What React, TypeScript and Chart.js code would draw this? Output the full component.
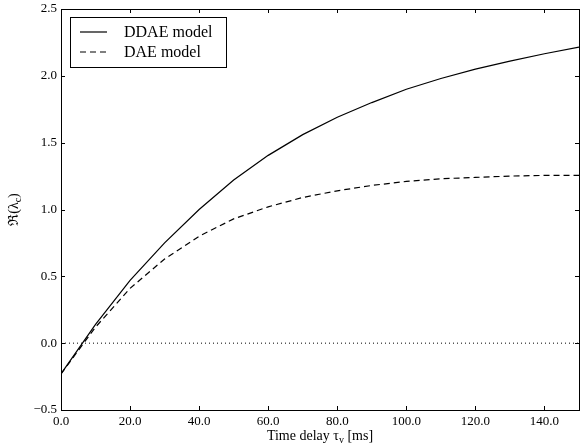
import React, { useEffect, useRef } from "react";
import { Chart, registerables } from "chart.js";

Chart.register(...registerables);

const delays = [0, 10, 20, 30, 40, 50, 60, 70, 80, 90, 100, 110, 120, 130, 140, 150];
const ddae = [-0.23, 0.14, 0.47, 0.75, 1.0, 1.22, 1.405, 1.56, 1.69, 1.80, 1.90, 1.98, 2.05, 2.11, 2.165, 2.215];
const dae = [-0.23, 0.12, 0.41, 0.63, 0.80, 0.93, 1.02, 1.09, 1.14, 1.18, 1.21, 1.23, 1.24, 1.25, 1.255, 1.255];
const zeroX = [0, 150];
const zeroY = [0, 0];
const xTicks = [0, 20, 40, 60, 80, 100, 120, 140];
const yTicks = [-0.5, 0, 0.5, 1.0, 1.5, 2.0, 2.5];
const seriesNames = ["DDAE model", "DAE model"];

const SERIF = "'Liberation Serif', 'DejaVu Serif', serif";

const fmt = (v: number) => (v < 0 ? "\u2212" + Math.abs(v).toFixed(1) : v.toFixed(1));

const decorPlugin = {
  id: "decor",
  afterDraw(chart: any) {
    const ctx = chart.ctx as CanvasRenderingContext2D;
    const { left, right, top, bottom } = chart.chartArea;
    const xs = chart.scales.x;
    const ys = chart.scales.y;
    ctx.save();
    ctx.strokeStyle = "#000";
    ctx.lineWidth = 1;
    ctx.setLineDash([]);
    ctx.strokeRect(Math.round(left) + 0.5, Math.round(top) + 0.5, Math.round(right - left), Math.round(bottom - top));
    const tl = 4;
    ctx.beginPath();
    xTicks.forEach((v) => {
      const px = Math.round(xs.getPixelForValue(v)) + 0.5;
      ctx.moveTo(px, bottom);
      ctx.lineTo(px, bottom - tl);
      ctx.moveTo(px, top);
      ctx.lineTo(px, top + tl);
    });
    yTicks.forEach((v) => {
      const py = Math.round(ys.getPixelForValue(v)) + 0.5;
      ctx.moveTo(left, py);
      ctx.lineTo(left + tl, py);
      ctx.moveTo(right, py);
      ctx.lineTo(right - tl, py);
    });
    ctx.stroke();

    // legend
    const lx = 70.5, ly = 17.5, lw = 156, lh = 50;
    ctx.fillStyle = "#fff";
    ctx.fillRect(lx, ly, lw, lh);
    ctx.strokeRect(lx, ly, lw, lh);
    ctx.font = `16px ${SERIF}`;
    ctx.textBaseline = "middle";
    ctx.textAlign = "left";
    const rows = [32, 52];
    rows.forEach((ry, i) => {
      ctx.beginPath();
      ctx.lineWidth = 1.2;
      ctx.setLineDash(i === 0 ? [] : [6, 4]);
      ctx.moveTo(80, ry);
      ctx.lineTo(107, ry);
      ctx.stroke();
      ctx.setLineDash([]);
      ctx.fillStyle = "#000";
      ctx.fillText(seriesNames[i], 124, ry + 1);
    });

    // x title with subscript
    ctx.fillStyle = "#000";
    ctx.textBaseline = "alphabetic";
    const main1 = "Time delay \u03c4";
    const sub1 = "v";
    const main2 = " [ms]";
    ctx.font = `14px ${SERIF}`;
    const w1 = ctx.measureText(main1).width;
    const w3 = ctx.measureText(main2).width;
    ctx.font = `10px ${SERIF}`;
    const w2 = ctx.measureText(sub1).width;
    const total = w1 + w2 + w3;
    let sx = (left + right) / 2 - total / 2;
    const by = 440;
    ctx.font = `14px ${SERIF}`;
    ctx.fillText(main1, sx, by);
    sx += w1;
    ctx.font = `10px ${SERIF}`;
    ctx.fillText(sub1, sx, by + 3);
    sx += w2;
    ctx.font = `14px ${SERIF}`;
    ctx.fillText(main2, sx, by);

    // y title rotated
    ctx.save();
    ctx.translate(18, (top + bottom) / 2);
    ctx.rotate(-Math.PI / 2);
    const a = "\u211c(\u03bb";
    const b = "c";
    const c = ")";
    ctx.font = `14px ${SERIF}`;
    const aw = ctx.measureText(a).width;
    const cw = ctx.measureText(c).width;
    ctx.font = `10px ${SERIF}`;
    const bw = ctx.measureText(b).width;
    let tx = -(aw + bw + cw) / 2;
    ctx.font = `14px ${SERIF}`;
    ctx.fillText(a, tx, 0);
    tx += aw;
    ctx.font = `10px ${SERIF}`;
    ctx.fillText(b, tx, 3);
    tx += bw;
    ctx.font = `14px ${SERIF}`;
    ctx.fillText(c, tx, 0);
    ctx.restore();

    ctx.restore();
  },
};

export default function App() {
  const ref = useRef<HTMLCanvasElement | null>(null);
  useEffect(() => {
    if (!ref.current) return;
    const chart = new Chart(ref.current, {
      type: "scatter",
      data: {
        datasets: [
          {
            label: "zero",
            data: zeroX.map((x, i) => ({ x, y: zeroY[i] })),
            showLine: true,
            borderColor: "#000",
            borderWidth: 1,
            borderDash: [1, 3],
            pointRadius: 0,
            fill: false,
          },
          {
            label: seriesNames[1],
            data: delays.map((x, i) => ({ x, y: dae[i] })),
            showLine: true,
            borderColor: "#000",
            borderWidth: 1.2,
            borderDash: [6, 4],
            pointRadius: 0,
            fill: false,
            tension: 0,
          },
          {
            label: seriesNames[0],
            data: delays.map((x, i) => ({ x, y: ddae[i] })),
            showLine: true,
            borderColor: "#000",
            borderWidth: 1.2,
            pointRadius: 0,
            fill: false,
            tension: 0,
          },
        ],
      },
      options: {
        animation: false,
        responsive: false,
        maintainAspectRatio: false,
        layout: { padding: { top: 9, right: 2, left: 0, bottom: 0 } },
        plugins: { legend: { display: false }, tooltip: { enabled: false } },
        scales: {
          x: {
            type: "linear",
            min: 0,
            max: 150,
            grid: { display: false, drawTicks: false },
            border: { display: false },
            afterBuildTicks: (axis: any) => {
              axis.ticks = xTicks.map((v) => ({ value: v }));
            },
            afterFit: (axis: any) => {
              axis.height = 34;
              axis.paddingLeft = 0;
              axis.paddingRight = 0;
            },
            ticks: {
              color: "#000",
              padding: 4,
              maxRotation: 0,
              autoSkip: false,
              font: { family: SERIF, size: 13 },
              callback: (v: any) => fmt(Number(v)),
            },
          },
          y: {
            type: "linear",
            min: -0.5,
            max: 2.5,
            grid: { display: false, drawTicks: false },
            border: { display: false },
            afterBuildTicks: (axis: any) => {
              axis.ticks = yTicks.map((v) => ({ value: v }));
            },
            afterFit: (axis: any) => {
              axis.width = 61;
              axis.paddingTop = 0;
              axis.paddingBottom = 0;
            },
            ticks: {
              color: "#000",
              padding: 4,
              autoSkip: false,
              font: { family: SERIF, size: 13 },
              callback: (v: any) => fmt(Number(v)),
            },
          },
        },
      },
      plugins: [decorPlugin],
    });
    return () => chart.destroy();
  }, []);
  return (
    <div style={{ position: "fixed", left: 0, top: 0, width: 581, height: 444, background: "#fff" }}>
      <canvas ref={ref} width={581} height={444} style={{ width: 581, height: 444 }} />
    </div>
  );
}
